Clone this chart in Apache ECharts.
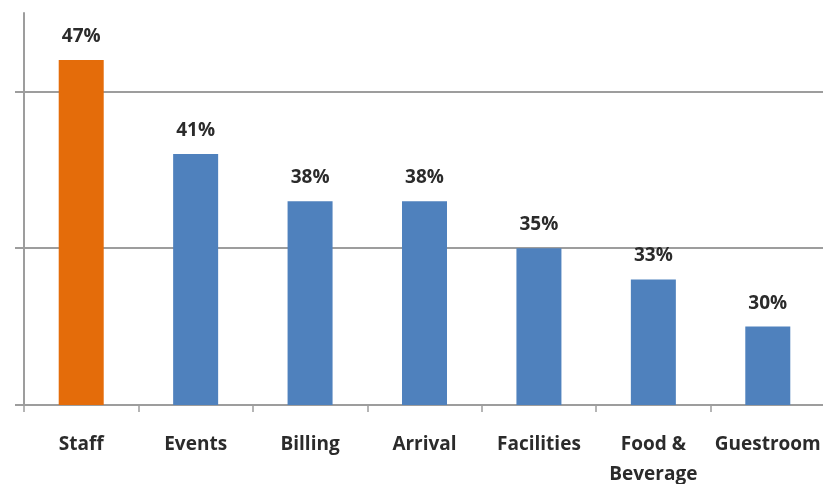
<!DOCTYPE html>
<html>
<head>
<meta charset="utf-8">
<script src="https://cdn.jsdelivr.net/npm/echarts@6/dist/echarts.min.js"></script>
<style>
  html, body { margin: 0; padding: 0; background: #ffffff; }
  #chart { width: 823px; height: 484px; }
</style>
</head>
<body>
<div id="chart"></div>
<script>
// Share of responses per service area (percent)
var categories = ['Staff', 'Events', 'Billing', 'Arrival', 'Facilities', 'Food &\nBeverage', 'Guestroom'];
var values = [47, 41, 38, 38, 35, 33, 30];
var highlightIndex = 0;          // first bar is drawn in orange
var gridValues = [25, 35, 45];   // values carrying a y-axis tick and grid line

var ORANGE = '#E46C0A';
var BLUE = '#4F81BD';
var AXIS_GREY = '#9d9d9d';
var TEXT = '#2b2b2b';
var FONT = '"Open Sans", "DejaVu Sans", sans-serif';

var chart = echarts.init(document.getElementById('chart'), null, { renderer: 'canvas' });

chart.setOption({
  animation: false,
  backgroundColor: '#ffffff',
  grid: { left: 24, right: -2, top: 13, bottom: 79, containLabel: false, outerBoundsMode: 'none' },
  xAxis: {
    type: 'category',
    data: categories,
    axisLine: { show: true, lineStyle: { color: AXIS_GREY, width: 2 } },
    axisTick: { show: true, length: 7, lineStyle: { color: AXIS_GREY, width: 1.5 } },
    axisLabel: {
      color: TEXT, fontFamily: FONT, fontWeight: 'bold', fontSize: 19,
      margin: 25, lineHeight: 30, interval: 0
    },
    splitLine: { show: false }
  },
  yAxis: {
    type: 'value',
    min: 25,
    max: 50,
    interval: 5,
    axisLine: { show: true, lineStyle: { color: AXIS_GREY, width: 2 } },
    axisTick: { show: true, length: 9, customValues: gridValues, lineStyle: { color: AXIS_GREY, width: 2 } },
    axisLabel: { show: false },
    splitLine: { show: true, lineStyle: { color: AXIS_GREY, width: 2 } }
  },
  series: [{
    type: 'bar',
    barWidth: 45,
    data: values.map(function (v, i) {
      return { value: v, itemStyle: { color: i === highlightIndex ? ORANGE : BLUE } };
    }),
    label: {
      show: true,
      position: 'top',
      distance: 14,
      formatter: '{c}%',
      color: TEXT, fontFamily: FONT, fontWeight: 'bold', fontSize: 19
    }
  }]
});
</script>
</body>
</html>
